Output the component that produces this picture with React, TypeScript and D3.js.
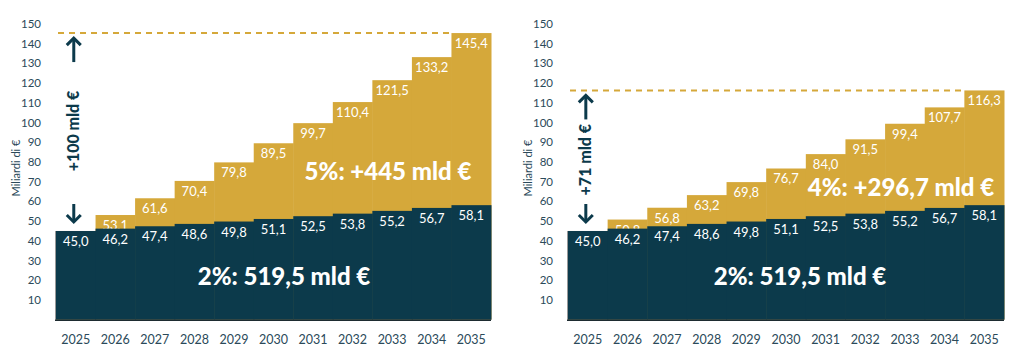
import { useEffect, useRef } from 'react';
import * as d3 from 'd3';

const years = ['2025', '2026', '2027', '2028', '2029', '2030', '2031', '2032', '2033', '2034', '2035'];
const base2 = [45.0, 46.2, 47.4, 48.6, 49.8, 51.1, 52.5, 53.8, 55.2, 56.7, 58.1];
const growth5 = [45.0, 53.1, 61.6, 70.4, 79.8, 89.5, 99.7, 110.4, 121.5, 133.2, 145.4];
const growth4 = [45.0, 50.8, 56.8, 63.2, 69.8, 76.7, 84.0, 91.5, 99.4, 107.7, 116.3];
const yTicks = [10, 20, 30, 40, 50, 60, 70, 80, 90, 100, 110, 120, 130, 140, 150];

const panels = [
  { x0: 56, x1: 491, top: growth5, topLabel: '5%: +445 mld €', topLabelPos: [388, 180], arrowText: '+100 mld €', baseLabelPos: [284, 285] },
  { x0: 568, x1: 1004, top: growth4, topLabel: '4%: +296,7 mld €', topLabelPos: [901, 196], arrowText: '+71 mld €', baseLabelPos: [800, 285] },
];

const DARK = '#0c3a4b';
const GOLD = '#d5a83a';
const FONT = 'Lato, "Open Sans", sans-serif';

const fmt = (v: number) => v.toFixed(1).replace('.', ',');

export default function App() {
  const svgRef = useRef<SVGSVGElement>(null);

  useEffect(() => {
    if (!svgRef.current) return;
    const svg = d3.select(svgRef.current);
    svg.selectAll('*').remove();

    const y = d3.scaleLinear().domain([0, 150]).range([319.7, 24]);

    panels.forEach((p) => {
      const g = svg.append('g');
      const x = d3.scaleBand<string>().domain(years).range([p.x0, p.x1]).padding(0);
      const rows = years.map((yr, i) => ({ yr, base: base2[i], top: p.top[i] }));

      // gold bars + labels (labels under the dark bars get clipped, like the original)
      g.selectAll('.gold').data(rows).join('rect')
        .attr('x', d => x(d.yr)!)
        .attr('width', x.bandwidth() + 0.5)
        .attr('y', d => y(d.top))
        .attr('height', d => y(0) - y(d.top))
        .attr('fill', GOLD);
      g.selectAll('.goldLabel').data(rows.slice(1)).join('text')
        .attr('x', d => x(d.yr)! + x.bandwidth() / 2)
        .attr('y', d => y(d.top) + 15)
        .attr('text-anchor', 'middle')
        .attr('font-family', FONT)
        .attr('font-size', 13)
        .attr('fill', '#fff')
        .text(d => fmt(d.top));

      g.selectAll('.dark').data(rows).join('rect')
        .attr('x', d => x(d.yr)!)
        .attr('width', x.bandwidth() + 0.5)
        .attr('y', d => y(d.base))
        .attr('height', d => y(0) - y(d.base))
        .attr('fill', DARK);
      g.selectAll('.darkLabel').data(rows).join('text')
        .attr('x', d => x(d.yr)! + x.bandwidth() / 2)
        .attr('y', d => y(d.base) + 15)
        .attr('text-anchor', 'middle')
        .attr('font-family', FONT)
        .attr('font-size', 13)
        .attr('fill', '#fff')
        .text(d => fmt(d.base));

      // axis lines
      g.append('line').attr('x1', p.x0 - 0.5).attr('x2', p.x0 - 0.5)
        .attr('y1', y(p.top[0])).attr('y2', y(0)).attr('stroke', '#999').attr('stroke-width', 1);
      g.append('line').attr('x1', p.x0 - 1).attr('x2', p.x1)
        .attr('y1', y(0) + 0.5).attr('y2', y(0) + 0.5).attr('stroke', '#1d2b30').attr('stroke-width', 1.5);

      // y tick labels
      g.selectAll('.tick').data(yTicks).join('text')
        .attr('x', p.x0 - 15)
        .attr('y', d => y(d))
        .attr('dy', '0.35em')
        .attr('text-anchor', 'end')
        .attr('font-family', FONT)
        .attr('font-size', 11.5)
        .attr('fill', '#2b4a5a')
        .text(d => d);

      // x labels
      g.selectAll('.year').data(years).join('text')
        .attr('x', d => x(d)! + x.bandwidth() / 2)
        .attr('y', 340)
        .attr('dy', '0.35em')
        .attr('text-anchor', 'middle')
        .attr('font-family', FONT)
        .attr('font-size', 12.5)
        .attr('fill', '#2b4a5a')
        .text(d => d);

      g.append('text')
        .attr('transform', `translate(${p.x0 - 40},168) rotate(-90)`)
        .attr('dy', '0.35em')
        .attr('text-anchor', 'middle')
        .attr('font-family', FONT)
        .attr('font-size', 11)
        .attr('fill', '#2b4a5a')
        .text('Miliardi di €');

      // dashed reference line at final value
      const last = p.top[p.top.length - 1];
      g.append('line')
        .attr('x1', p.x0 + 2).attr('x2', x(years[years.length - 1])!)
        .attr('y1', y(last)).attr('y2', y(last))
        .attr('stroke', GOLD).attr('stroke-width', 2).attr('stroke-dasharray', '6,5');

      // arrows
      const ax = x(years[0])! + x.bandwidth() / 2 - 2;
      const upTip = y(last) + 5;
      const downTip = y(p.top[0]) - 9;
      const arrow = (y1: number, y2: number, tip: number, dir: number) => {
        g.append('line').attr('x1', ax).attr('x2', ax).attr('y1', y1).attr('y2', y2)
          .attr('stroke', DARK).attr('stroke-width', 3);
        g.append('path')
          .attr('d', `M${ax - 7},${tip + dir * 7} L${ax},${tip} L${ax + 7},${tip + dir * 7}`)
          .attr('fill', 'none').attr('stroke', DARK).attr('stroke-width', 3);
      };
      arrow(upTip, upTip + 24, upTip, 1);
      arrow(downTip - 18, downTip, downTip, -1);
      g.append('text')
        .attr('transform', `translate(${ax},${(upTip + 24 + downTip - 18) / 2 - 2}) rotate(-90)`)
        .attr('dy', '0.35em')
        .attr('text-anchor', 'middle')
        .attr('font-family', FONT)
        .attr('font-weight', 900)
        .attr('font-size', 16)
        .attr('fill', DARK)
        .text(p.arrowText);

      // big labels
      g.append('text')
        .attr('x', p.topLabelPos[0]).attr('y', p.topLabelPos[1])
        .attr('text-anchor', 'middle')
        .attr('font-family', FONT).attr('font-weight', 900).attr('font-size', 24)
        .attr('fill', '#fff')
        .text(p.topLabel);
      g.append('text')
        .attr('x', p.baseLabelPos[0]).attr('y', p.baseLabelPos[1])
        .attr('text-anchor', 'middle')
        .attr('font-family', FONT).attr('font-weight', 900).attr('font-size', 24)
        .attr('fill', '#fff')
        .text('2%: 519,5 mld €');
    });
  }, []);

  return (
    <svg
      ref={svgRef}
      width={1024}
      height={362}
      style={{ position: 'absolute', left: 0, top: 0, background: '#fff' }}
    />
  );
}
